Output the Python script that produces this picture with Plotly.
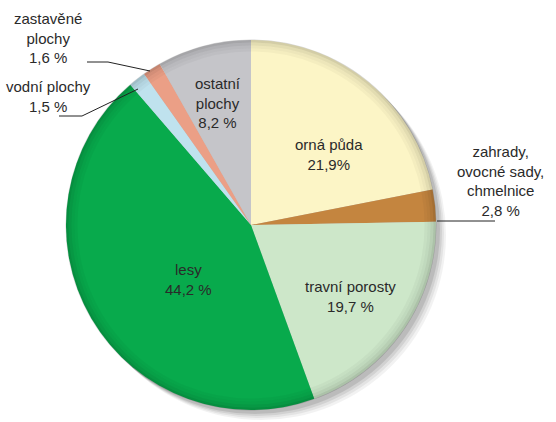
import plotly.graph_objects as go

W, H = 556, 422

categories = ["orná půda", "zahrady, ovocné sady, chmelnice", "travní porosty", "lesy",
              "vodní plochy", "zastavěné plochy", "ostatní plochy"]
values = [21.9, 2.8, 19.7, 44.2, 1.5, 1.6, 8.2]
label_texts = ["orná půda<br>21,9%", "zahrady,<br>ovocné sady,<br>chmelnice<br>2,8 %",
               "travní porosty<br>19,7 %", "lesy<br>44,2 %", "vodní plochy<br>1,5 %",
               "zastavěné<br>plochy<br>1,6 %", "ostatní<br>plochy<br>8,2 %"]
colors = ["#fcf5c6", "#c4853f", "#cde7c9", "#08aa4c", "#bfe2ee", "#eb9f86", "#c5c5c9"]

# layout geometry (pixels)
CX, CY, R = 251, 225, 185
label_pos = [(329, 154), (500, 181), (350, 296), (188, 279), (48, 96), (48, 38), (218, 103)]
leaders = [
    [(437, 221), (495, 221)],
    [(87, 62), (108, 62), (150, 71)],
    [(59, 116), (82, 116), (138, 89)],
]


def px(x, y):
    return x / W, (H - y) / H


fig = go.Figure()
fig.add_trace(go.Pie(
    labels=categories, values=values, sort=False, direction="clockwise", rotation=0,
    marker=dict(colors=colors, line=dict(width=0)),
    textinfo="none", hoverinfo="label+percent", showlegend=False,
    domain=dict(x=[(CX - R) / W, (CX + R) / W], y=[(H - CY - R) / H, (H - CY + R) / H]),
))

shapes = []
# soft drop shadow behind the pie
for off, a in [(10, 0.05), (8, 0.06), (6, 0.08), (4, 0.10)]:
    x0, y0 = px(CX - R + off, CY - R + off)
    x1, y1 = px(CX + R + off, CY + R + off)
    shapes.append(dict(type="circle", xref="paper", yref="paper", x0=x0, x1=x1, y0=y1, y1=y0,
                       fillcolor=f"rgba(0,0,0,{a})", line=dict(width=0), layer="below"))
# rim darkening on top
for d, a in [(1, 0.16), (4, 0.10), (7, 0.06), (10, 0.03)]:
    x0, y0 = px(CX - R + d, CY - R + d)
    x1, y1 = px(CX + R - d, CY + R - d)
    shapes.append(dict(type="circle", xref="paper", yref="paper", x0=x0, x1=x1, y0=y1, y1=y0,
                       line=dict(color=f"rgba(0,0,0,{a})", width=3), layer="above"))
for pts in leaders:
    path = "M " + " L ".join(f"{px(x, y)[0]},{px(x, y)[1]}" for x, y in pts)
    shapes.append(dict(type="path", xref="paper", yref="paper", path=path,
                       line=dict(color="#222222", width=1), layer="above"))

annotations = []
for t, (x, y) in zip(label_texts, label_pos):
    ax, ay = px(x, y)
    annotations.append(dict(text=t, x=ax, y=ay, xref="paper", yref="paper", showarrow=False,
                            xanchor="center", yanchor="middle", align="center",
                            font=dict(family="Liberation Sans, Arial, sans-serif", size=15,
                                      color="#2a2a2a")))

fig.update_layout(width=W, height=H, margin=dict(l=0, r=0, t=0, b=0),
                  paper_bgcolor="white", plot_bgcolor="white",
                  shapes=shapes, annotations=annotations)
fig.write_html("out.html", config={"displayModeBar": False},
               post_script="document.body.style.margin='0';")
